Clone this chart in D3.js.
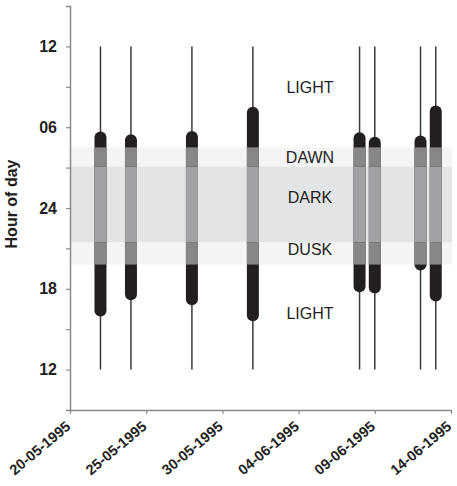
<!DOCTYPE html>
<html>
<head>
<meta charset="utf-8">
<script src="https://cdn.jsdelivr.net/npm/d3@7"></script>
<style>
  body { margin: 0; background: #fff; }
  text { font-family: "Liberation Sans", Arial, sans-serif; }
</style>
</head>
<body>
<svg id="chart" width="457" height="486"></svg>
<script>
// days that were recorded
const dates = ["22-05-1995", "24-05-1995", "28-05-1995", "01-06-1995",
               "08-06-1995", "09-06-1995", "12-06-1995", "13-06-1995"];
// morning end of the black bar (hour of day, next morning)
const morningHour = [5.68, 5.48, 5.71, 7.52, 5.63, 5.29, 5.39, 7.62];
// afternoon start of the black bar (hour of day)
const afternoonHour = [15.94, 17.15, 16.78, 15.59, 17.74, 17.65, 19.36, 17.05];

// light periods, hours (values above 24 are after midnight)
const bandNames = ["DAWN", "DARK", "DUSK"];
const bandFrom = [27.08, 21.43, 19.8];
const bandTo = [28.5, 27.08, 21.43];

const xTicks = ["20-05-1995", "25-05-1995", "30-05-1995", "04-06-1995", "09-06-1995", "14-06-1995"];
const yTicks = [12, 15, 18, 21, 24, 27, 30, 33, 36];

const parse = d3.timeParse("%d-%m-%Y");
const fmt = d3.timeFormat("%d-%m-%Y");

const svg = d3.select("#chart");

const x = d3.scaleTime()
    .domain([parse(xTicks[0]), parse(xTicks[xTicks.length - 1])])
    .range([70, 451]);

const y = d3.scaleLinear()
    .domain([9, 39])
    .range([410, 6]);

const bandFill = { "DAWN": "#f4f4f4", "DARK": "#e3e4e6", "DUSK": "#f4f4f4" };
const bandOnBar = { "DAWN": "#87878a", "DARK": "#a0a1a4", "DUSK": "#87878a" };

const bands = bandNames.map((n, i) => ({ name: n, from: bandFrom[i], to: bandTo[i] }));
const bars = dates.map((d, i) => ({
    date: parse(d),
    top: morningHour[i] + 24,
    bottom: afternoonHour[i]
}));

// background bands
svg.append("g")
    .selectAll("rect")
    .data(bands)
    .enter()
    .append("rect")
    .attr("x", x.range()[0])
    .attr("width", x.range()[1] - x.range()[0] + 1)
    .attr("y", d => y(d.to))
    .attr("height", d => y(d.from) - y(d.to))
    .attr("fill", d => bandFill[d.name]);

// thin lines noon to noon
svg.append("g")
    .selectAll("line")
    .data(bars)
    .enter()
    .append("line")
    .attr("x1", d => x(d.date))
    .attr("x2", d => x(d.date))
    .attr("y1", y(36))
    .attr("y2", y(12))
    .attr("stroke", "#3c3a3b")
    .attr("stroke-width", 1.5);

// thick bars
svg.append("g")
    .selectAll("rect")
    .data(bars)
    .enter()
    .append("rect")
    .attr("x", d => x(d.date) - 6)
    .attr("width", 12)
    .attr("y", d => y(d.top))
    .attr("height", d => y(d.bottom) - y(d.top))
    .attr("rx", 6)
    .attr("fill", "#231f20");

// bar parts inside the bands
const pieces = [];
bars.forEach(b => {
    bands.forEach(band => {
        const lo = Math.max(b.bottom, band.from);
        const hi = Math.min(b.top, band.to);
        if (hi > lo) pieces.push({ date: b.date, lo: lo, hi: hi, name: band.name });
    });
});
svg.append("g")
    .selectAll("rect")
    .data(pieces)
    .enter()
    .append("rect")
    .attr("x", d => x(d.date) - 6)
    .attr("width", 12)
    .attr("y", d => y(d.hi))
    .attr("height", d => y(d.lo) - y(d.hi))
    .attr("fill", d => bandOnBar[d.name]);

// labels in the plot
const labels = [
    { text: "LIGHT", h: 32.55 },
    { text: "DAWN", h: 27.35 },
    { text: "DARK", h: 24.35 },
    { text: "DUSK", h: 20.5 },
    { text: "LIGHT", h: 15.75 }
];
svg.append("g")
    .selectAll("text")
    .data(labels)
    .enter()
    .append("text")
    .attr("x", 310)
    .attr("y", d => y(d.h))
    .attr("text-anchor", "middle")
    .style("font-size", "16px")
    .style("fill", "#231f20")
    .text(d => d.text);

// y axis
const yAxis = svg.append("g")
    .attr("transform", "translate(70,0)")
    .call(d3.axisLeft(y)
        .tickValues(yTicks)
        .tickSize(4)
        .tickSizeOuter(4)
        .tickPadding(9)
        .tickFormat(d => d % 6 ? "" : (d === 24 ? "24" : d3.format("02d")(d % 24))));
yAxis.select(".domain").attr("stroke", "#8a8a8a").attr("stroke-width", 1.5);
yAxis.selectAll(".tick line").attr("stroke", "#8a8a8a").attr("stroke-width", 1.2);
yAxis.selectAll("text")
    .style("font-size", "16px")
    .style("font-weight", "bold")
    .style("fill", "#231f20");

// x axis
const xAxis = svg.append("g")
    .attr("transform", "translate(0,410)")
    .call(d3.axisBottom(x)
        .tickValues(xTicks.map(parse))
        .tickSize(4)
        .tickSizeOuter(0)
        .tickFormat(fmt));
xAxis.select(".domain").attr("stroke", "#8a8a8a").attr("stroke-width", 1.5);
xAxis.selectAll(".tick line").attr("stroke", "#8a8a8a").attr("stroke-width", 1.2);
xAxis.selectAll("text")
    .attr("text-anchor", "end")
    .attr("dx", 0)
    .attr("dy", 0)
    .attr("y", 0)
    .attr("transform", "translate(1,18) rotate(-40)")
    .style("font-size", "14.5px")
    .style("font-weight", "bold")
    .style("fill", "#231f20");

// y title
svg.append("text")
    .attr("transform", "translate(17,204) rotate(-90)")
    .attr("text-anchor", "middle")
    .style("font-size", "16px")
    .style("font-weight", "bold")
    .style("fill", "#231f20")
    .text("Hour of day");
</script>
</body>
</html>
